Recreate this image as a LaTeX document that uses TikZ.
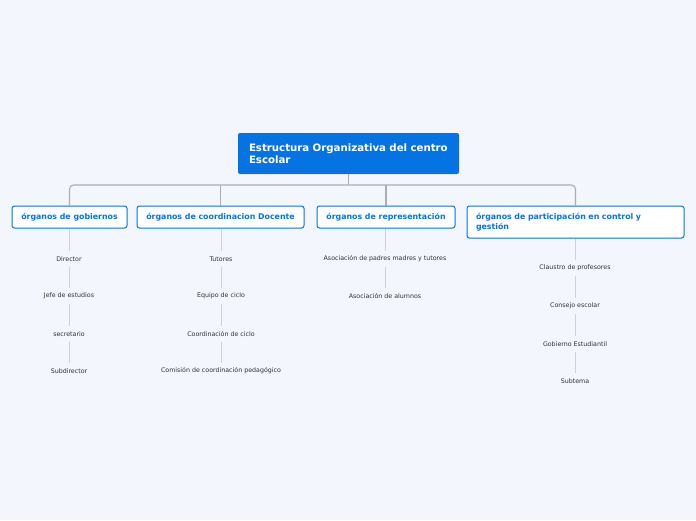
\documentclass[tikz,border=0pt]{standalone}
\usepackage{fontspec}
\setmainfont{DejaVu Sans}
\definecolor{bgblue}{HTML}{F3F6FD}
\definecolor{mainblue}{HTML}{0673E3}
\definecolor{trunkgray}{HTML}{A9ADB4}
\definecolor{leafgray}{HTML}{CDD1D8}
\definecolor{leaftext}{HTML}{2E3035}
\begin{document}
\begin{tikzpicture}[x=1pt, y=-1pt,
  rootbox/.style={fill=mainblue, rounded corners=2pt, text=white, font=\fontsize{10.2}{12}\selectfont\bfseries,
    text width=199pt, align=left, inner xsep=11pt, minimum height=41pt},
  topicbox/.style={draw=mainblue, line width=1pt, fill=white, rounded corners=2.5pt, text=mainblue,
    font=\fontsize{7.85}{10}\selectfont\bfseries, minimum height=22pt, inner xsep=0pt},
  leaf/.style={text=leaftext, font=\fontsize{6.3}{7}\selectfont, inner sep=5pt},
  trunk/.style={draw=trunkgray, line width=1.1pt},
  twig/.style={draw=leafgray, line width=0.9pt}]
\fill[bgblue] (0,0) rectangle (696,520);
\useasboundingbox (0,0) rectangle (696,520);
% root
\node[rootbox] (root) at (348.5,153.5) {Estructura Organizativa del centro\\Escolar};
% main topics
\node[topicbox, minimum width=115pt] (gob) at (69.5,217) {órganos de gobiernos};
\node[topicbox, minimum width=167pt] (coord) at (220.5,217) {órganos de coordinacion Docente};
\node[topicbox, minimum width=138pt] (repr) at (386,217) {órganos de representación};
\node[topicbox, minimum width=217pt, minimum height=32pt, text width=199pt, align=left, inner xsep=9pt,
  font=\fontsize{7.85}{10}\selectfont\bfseries] (part) at (575.5,222) {órganos de participación en control y\\gestión};
% trunk
\draw[trunk] (root.south) -- (root.south |- 0,185);
\draw[trunk, rounded corners=4pt] (gob.north) |- (part.north |- 0,185) -- (part.north);
\draw[trunk] (coord.north) -- (coord.north |- 0,185);
\draw[trunk] (repr.north) -- (repr.north |- 0,185);
% leaves
\node[leaf] (director) at (69,259) {Director};
\node[leaf] (jefe) at (69,296) {Jefe de estudios};
\node[leaf] (secre) at (69,334) {secretario};
\node[leaf] (subdir) at (69,371) {Subdirector};
\node[leaf] (tutores) at (221,259) {Tutores};
\node[leaf] (equipo) at (221,296) {Equipo de ciclo};
\node[leaf] (coordciclo) at (221,334) {Coordinación de ciclo};
\node[leaf] (comision) at (221,371) {Comisión de coordinación pedagógico};
\node[leaf] (padres) at (385,259) {Asociación de padres madres y tutores};
\node[leaf] (alumnos) at (385,296) {Asociación de alumnos};
\node[leaf] (claustro) at (575,268) {Claustro de profesores};
\node[leaf] (consejo) at (575,306) {Consejo escolar};
\node[leaf] (gobest) at (575,344) {Gobierno Estudiantil};
\node[leaf] (subtema) at (575,381) {Subtema};
% twigs
\draw[twig] (gob.south -| director) -- (director.north);
\draw[twig] (director.south) -- (jefe.north);
\draw[twig] (jefe.south) -- (secre.north);
\draw[twig] (secre.south) -- (subdir.north);
\draw[twig] (coord.south -| tutores) -- (tutores.north);
\draw[twig] (tutores.south) -- (equipo.north);
\draw[twig] (equipo.south) -- (coordciclo.north);
\draw[twig] (coordciclo.south) -- (comision.north);
\draw[twig] (repr.south -| padres) -- (padres.north);
\draw[twig] (padres.south) -- (alumnos.north);
\draw[twig] (part.south -| claustro) -- (claustro.north);
\draw[twig] (claustro.south) -- (consejo.north);
\draw[twig] (consejo.south) -- (gobest.north);
\draw[twig] (gobest.south) -- (subtema.north);
\end{tikzpicture}
\end{document}
